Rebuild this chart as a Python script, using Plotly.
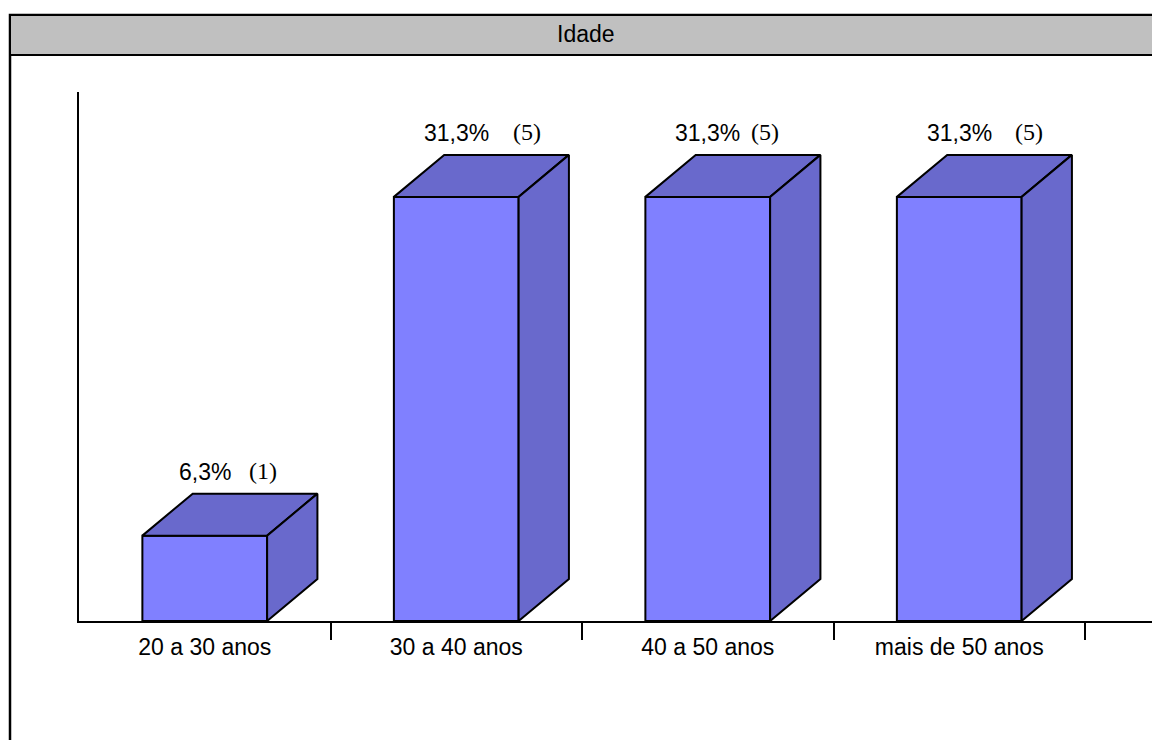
import plotly.graph_objects as go

# Age distribution of respondents
categorias = ["20 a 30 anos", "30 a 40 anos", "40 a 50 anos", "mais de 50 anos"]
percentuais = [6.3, 31.3, 31.3, 31.3]
contagens = [1, 5, 5, 5]
rotulos_pct = ["6,3%", "31,3%", "31,3%", "31,3%"]

W, H = 1152, 740
SANS = "Liberation Sans, Arial, sans-serif"
SERIF = "Liberation Serif, Times New Roman, serif"

FRONT = "#8080FF"
SHADE = "#6969CC"

half_w = 0.248      # half width of the front face (category units)
dep_x = 0.2         # depth offset, x (category units)
dep_y = 3.1         # depth offset, y (percent units)
count_shift = [58, 71, 57, 70]  # horizontal offset of the count label, px

fig = go.Figure()


def poly(xs, ys, color):
    fig.add_trace(go.Scatter(
        x=xs + [xs[0]], y=ys + [ys[0]], mode="lines", fill="toself",
        fillcolor=color, line=dict(color="black", width=2),
        hoverinfo="skip", showlegend=False,
    ))


for i, v in enumerate(percentuais):
    l, r = i - half_w, i + half_w
    # front face
    poly([l, r, r, l], [0, 0, v, v], FRONT)
    # top face
    poly([l, r, r + dep_x, l + dep_x], [v, v, v + dep_y, v + dep_y], SHADE)
    # side face
    poly([r, r + dep_x, r + dep_x, r], [0, dep_y, v + dep_y, v], SHADE)

# invisible trace carrying the boundary tick axis
fig.add_trace(go.Scatter(x=[0], y=[0], xaxis="x2", mode="markers",
                         marker=dict(opacity=0), hoverinfo="skip",
                         showlegend=False))

annotations = []
for i, (v, p, c) in enumerate(zip(percentuais, rotulos_pct, contagens)):
    annotations.append(dict(
        x=i, y=v + dep_y, xref="x", yref="y", text=p, showarrow=False,
        yanchor="middle", yshift=22, font=dict(family=SANS, size=23, color="black"),
    ))
    annotations.append(dict(
        x=i, y=v + dep_y, xref="x", yref="y", text=f"({c})", showarrow=False,
        yanchor="middle", yshift=23, xshift=count_shift[i],
        font=dict(family=SERIF, size=24, color="black"),
    ))

annotations.append(dict(
    x=586 / W, y=1 - 34 / H, xref="paper", yref="paper", text="Idade",
    showarrow=False, xanchor="center", yanchor="middle",
    font=dict(family=SANS, size=23, color="black"),
))

x_left = 79 / W
x_range = [-0.5, -0.5 + (W - 79) / 251.5]
y_dom = [1 - 621 / H, 1 - 92 / H]
y_max = (621 - 92) / 13.55

fig.update_layout(
    width=W, height=H, margin=dict(l=0, r=0, t=0, b=0),
    paper_bgcolor="white", plot_bgcolor="rgba(0,0,0,0)",
    showlegend=False, hovermode=False,
    xaxis=dict(
        domain=[x_left, 1], range=x_range, tickmode="array",
        tickvals=list(range(len(categorias))), ticktext=categorias,
        ticks="", showline=True, linecolor="black", linewidth=2,
        showgrid=False, zeroline=False, ticklabelstandoff=4,
        tickfont=dict(family=SANS, size=23, color="black"), fixedrange=True,
    ),
    xaxis2=dict(
        domain=[x_left, 1], range=x_range, overlaying="x", anchor="y",
        side="bottom", tickmode="array",
        tickvals=[k + 0.5 for k in range(len(categorias))],
        ticks="outside", ticklen=18, tickwidth=2, tickcolor="black",
        showticklabels=False, showline=False, showgrid=False, zeroline=False,
    ),
    yaxis=dict(
        domain=y_dom, range=[0, y_max], showline=True, linecolor="black",
        linewidth=2, showticklabels=False, ticks="", showgrid=False,
        zeroline=False, fixedrange=True,
    ),
    annotations=annotations,
    shapes=[
        # outer frame
        dict(type="rect", xref="paper", yref="paper",
             x0=10 / W, x1=1.05, y0=-0.05, y1=1 - 15 / H,
             line=dict(color="black", width=2.5), fillcolor="rgba(0,0,0,0)"),
        # title band
        dict(type="rect", xref="paper", yref="paper",
             x0=10 / W, x1=1.05, y0=1 - 55 / H, y1=1 - 15 / H,
             line=dict(color="black", width=2), fillcolor="#C0C0C0"),
    ],
)

fig.write_html("out.html")
